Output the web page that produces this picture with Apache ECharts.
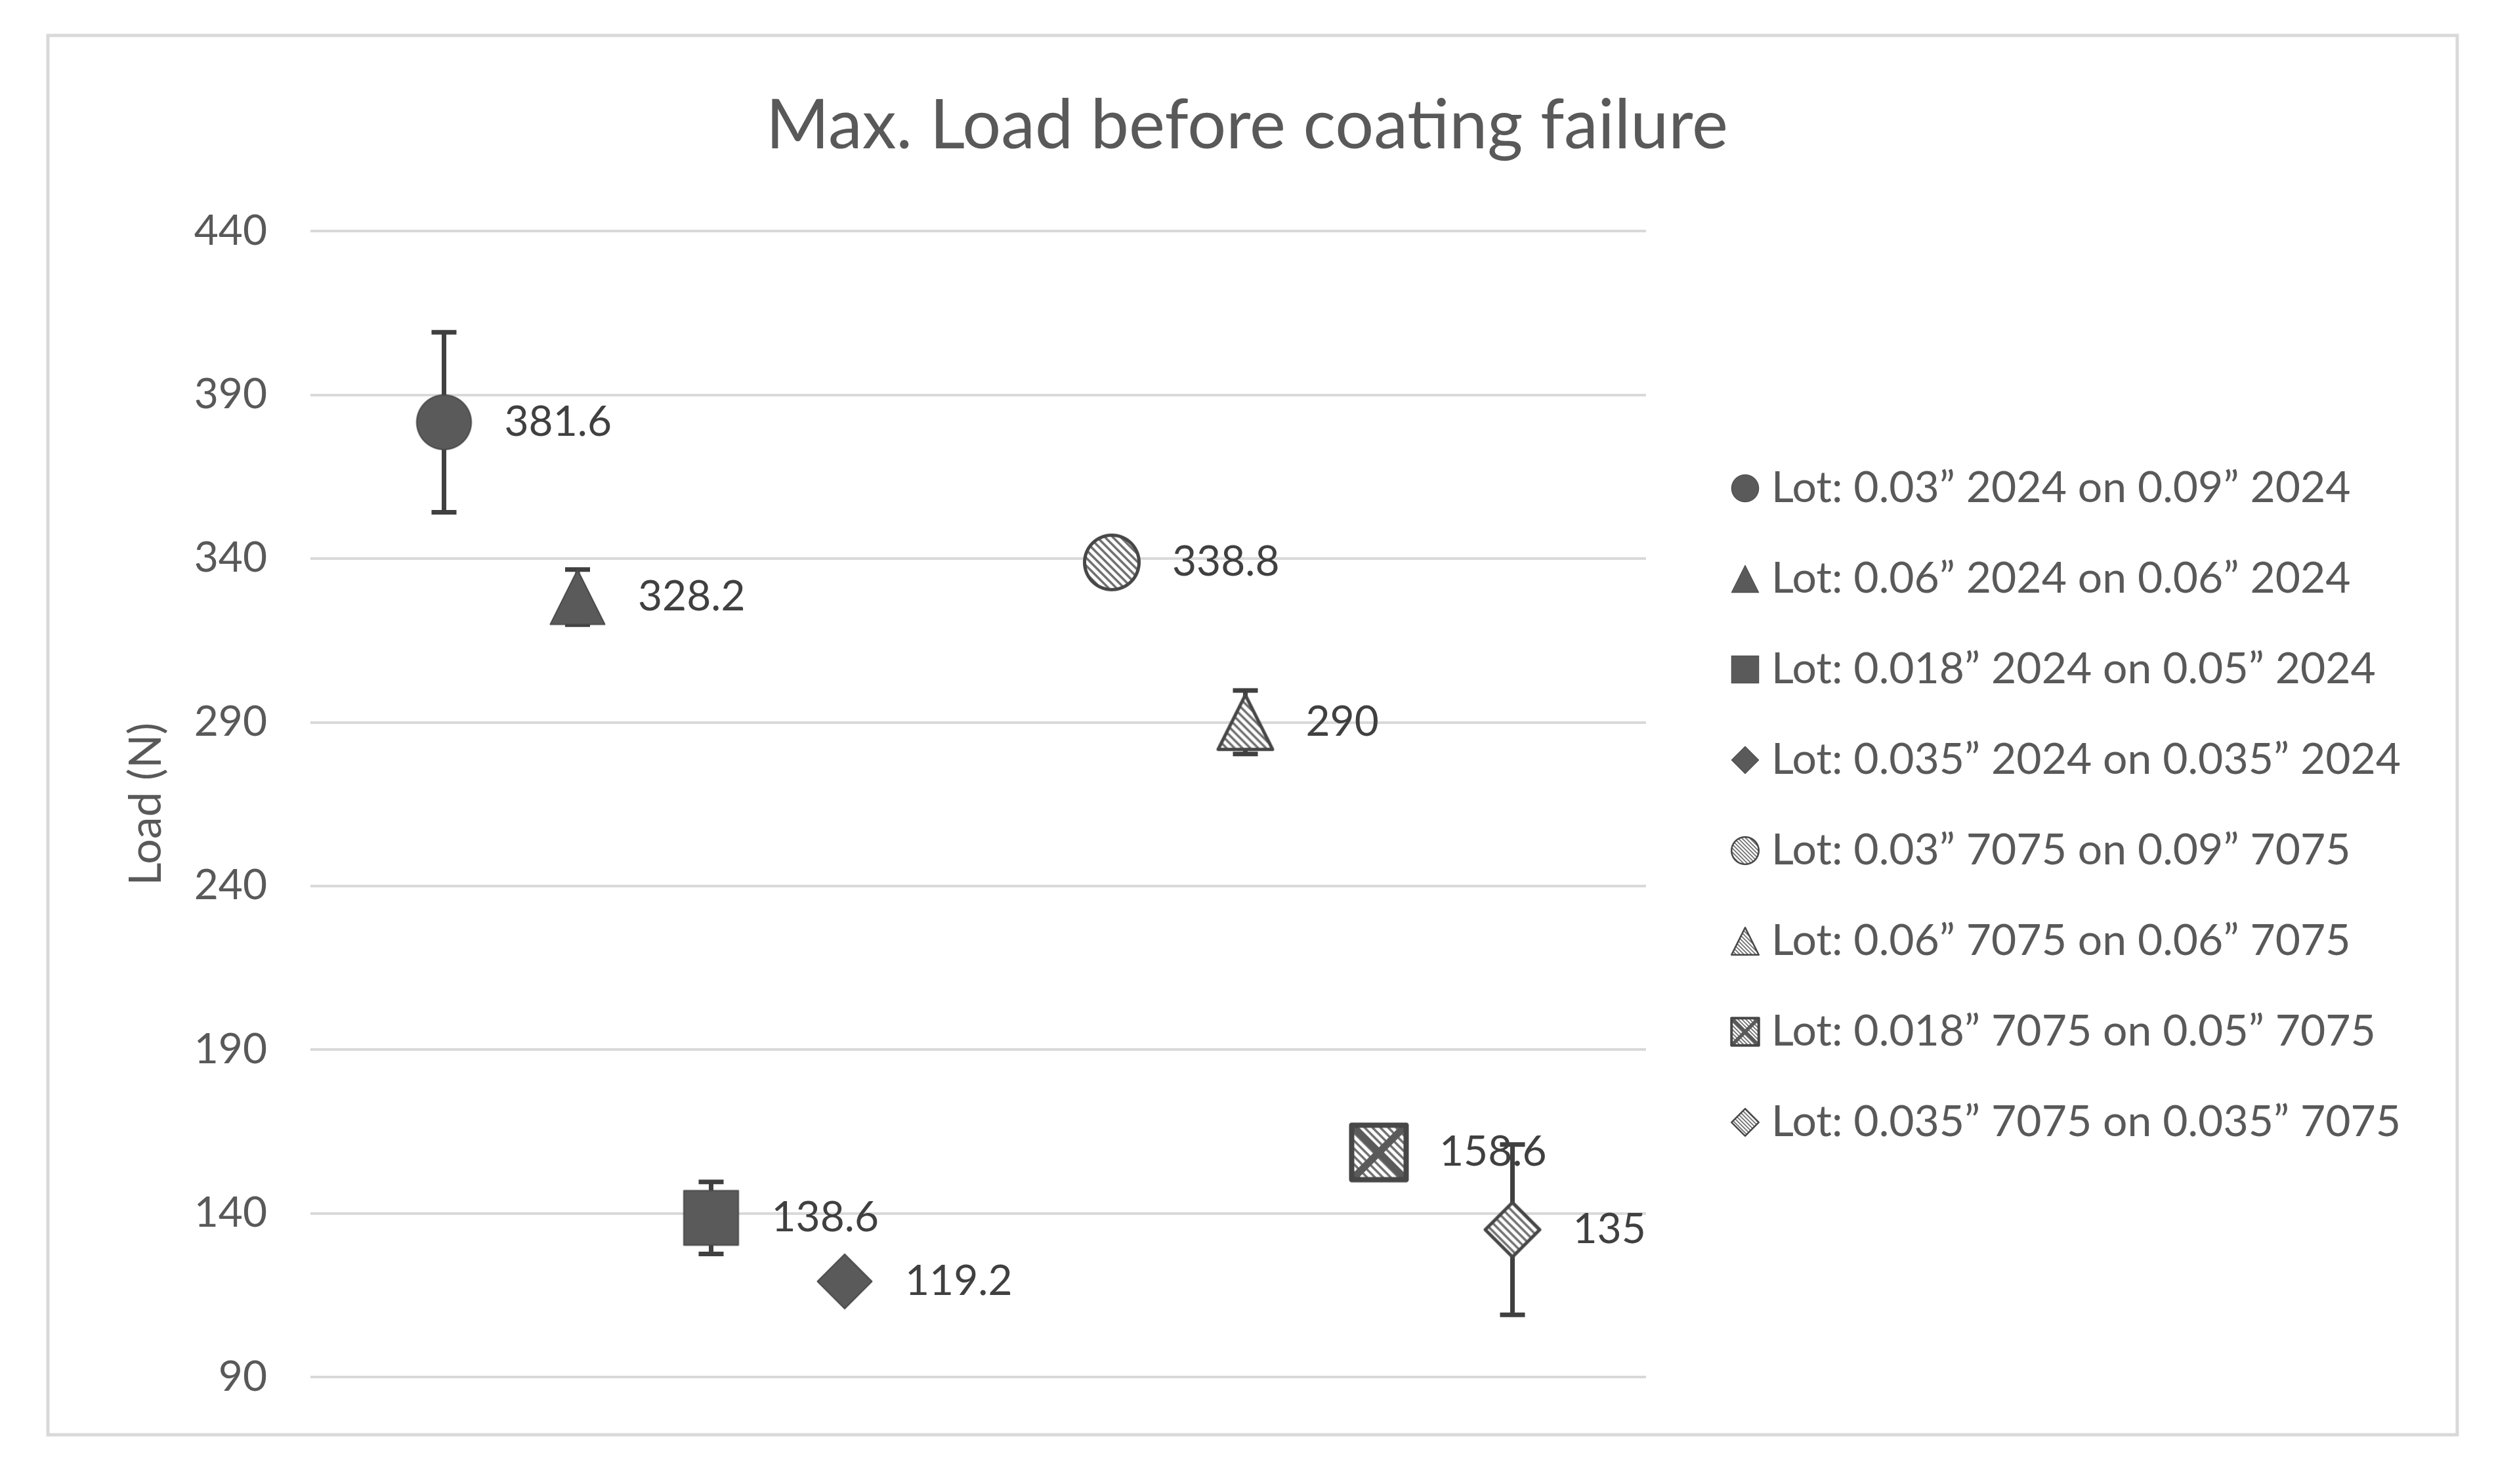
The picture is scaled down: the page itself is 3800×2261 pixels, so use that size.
<!DOCTYPE html>
<html>
<head>
<meta charset="utf-8">
<script src="https://cdn.jsdelivr.net/npm/echarts@6/dist/echarts.min.js"></script>
<style>
    html, body { margin: 0; padding: 0; background: #fff; }
    #chart { width: 3800px; height: 2261px; }
</style>
</head>
<body>
<div id="chart"></div>
<script>
// data
const seriesNames = [
    'Lot: 0.03\u201D 2024 on 0.09\u201D 2024',
    'Lot: 0.06\u201D 2024 on 0.06\u201D 2024',
    'Lot: 0.018\u201D 2024 on 0.05\u201D 2024',
    'Lot: 0.035\u201D 2024 on 0.035\u201D 2024',
    'Lot: 0.03\u201D 7075 on 0.09\u201D 7075',
    'Lot: 0.06\u201D 7075 on 0.06\u201D 7075',
    'Lot: 0.018\u201D 7075 on 0.05\u201D 7075',
    'Lot: 0.035\u201D 7075 on 0.035\u201D 7075'
];
const xPos = [1, 2, 3, 4, 6, 7, 8, 9];
const loads = [381.6, 328.2, 138.6, 119.2, 338.8, 290, 158.6, 135];
const errs = [27.5, 8.4, 11, 4, 4, 9.7, 4, 26];   // small ones sit hidden behind the marker
const yTicks = [90, 140, 190, 240, 290, 340, 390, 440];

// marker look per series
const shapes = ['circle', 'triangle', 'square', 'diamond', 'circle', 'triangle', 'square', 'diamond'];
const fills = ['solid', 'solid', 'solid', 'solid', 'hatch', 'hatch', 'cross', 'hatch'];

const FONT = 'Lato';
const TEXT = '#595959';

function tracePath(ctx, shape, S, p) {
    ctx.beginPath();
    if (shape === 'circle') {
        ctx.arc(S / 2, S / 2, S / 2 - p, 0, Math.PI * 2);
    } else if (shape === 'square') {
        ctx.rect(p, p, S - 2 * p, S - 2 * p);
    } else if (shape === 'triangle') {
        ctx.moveTo(S / 2, p);
        ctx.lineTo(S - p, S - p);
        ctx.lineTo(p, S - p);
        ctx.closePath();
    } else {
        ctx.moveTo(S / 2, p);
        ctx.lineTo(S - p, S / 2);
        ctx.lineTo(S / 2, S - p);
        ctx.lineTo(p, S / 2);
        ctx.closePath();
    }
}

// draw the marker on a canvas and hand it to echarts as an image symbol
function markerImage(shape, fill) {
    const S = 184, p = 9;
    const c = document.createElement('canvas');
    c.width = c.height = S;
    const ctx = c.getContext('2d');
    ctx.lineJoin = 'round';
    tracePath(ctx, shape, S, p);
    if (fill === 'solid') {
        ctx.fillStyle = '#5a5a5a';
        ctx.fill();
        ctx.strokeStyle = '#4a4a4a';
        ctx.lineWidth = 4;
        ctx.stroke();
    } else {
        ctx.fillStyle = '#fff';
        ctx.fill();
        ctx.save();
        ctx.clip();
        ctx.strokeStyle = '#707070';
        ctx.lineWidth = 7;
        for (let k = -S; k < S * 2; k += 24) {
            ctx.beginPath();
            ctx.moveTo(k, 0);
            ctx.lineTo(k + S, S);
            ctx.stroke();
        }
        if (fill === 'cross') {
            ctx.strokeStyle = '#5a5a5a';
            ctx.lineWidth = 22;
            ctx.beginPath();
            ctx.moveTo(0, 0); ctx.lineTo(S, S);
            ctx.moveTo(S, 0); ctx.lineTo(0, S);
            ctx.stroke();
        }
        ctx.restore();
        tracePath(ctx, shape, S, p);
        ctx.strokeStyle = '#474747';
        ctx.lineWidth = fill === 'cross' ? 16 : 10;
        ctx.stroke();
    }
    return 'image://' + c.toDataURL();
}

const chart = echarts.init(document.getElementById('chart'));

const scatterSeries = seriesNames.map((name, i) => ({
    name: name,
    type: 'scatter',
    z: 3,
    symbol: markerImage(shapes[i], fills[i]),
    symbolSize: 92,
    itemStyle: { opacity: 1 },
    data: [[xPos[i], loads[i]]],
    label: {
        show: true,
        position: 'right',
        distance: 46,
        formatter: '{@[1]}',
        fontFamily: FONT,
        fontSize: 64,
        color: '#404040'
    }
}));

// error bars, drawn behind the markers
const errorSeries = {
    type: 'custom',
    name: 'error',
    z: 1,
    silent: true,
    data: xPos.map((x, i) => [x, loads[i] - errs[i], loads[i] + errs[i]]),
    encode: { x: 0, y: [1, 2] },
    renderItem: function (params, api) {
        const lo = api.coord([api.value(0), api.value(1)]);
        const hi = api.coord([api.value(0), api.value(2)]);
        const w = 19;
        const st = { stroke: '#404040', lineWidth: 7 };
        return {
            type: 'group',
            children: [
                { type: 'line', shape: { x1: lo[0], y1: lo[1], x2: hi[0], y2: hi[1] }, style: st },
                { type: 'line', shape: { x1: lo[0] - w, y1: lo[1], x2: lo[0] + w, y2: lo[1] }, style: st },
                { type: 'line', shape: { x1: hi[0] - w, y1: hi[1], x2: hi[0] + w, y2: hi[1] }, style: st }
            ]
        };
    }
};

const option = {
    animation: false,
    backgroundColor: '#fff',
    title: {
        text: 'Max. Load before coating failure',
        left: 'center',
        top: 135,
        textStyle: { fontFamily: FONT, fontSize: 104, fontWeight: 'normal', color: TEXT }
    },
    grid: { left: 473, right: 1292, top: 352, bottom: 163 },
    legend: {
        orient: 'vertical',
        left: 2631,
        top: 706,
        itemWidth: 46,
        itemHeight: 46,
        itemGap: 72,
        data: seriesNames,
        itemStyle: { opacity: 1 },
        textStyle: {
            fontFamily: FONT,
            fontSize: 66,
            lineHeight: 66,
            color: TEXT,
            padding: [0, 0, 0, 12]
        }
    },
    xAxis: {
        type: 'value',
        min: 0,
        max: 10,
        show: false
    },
    yAxis: {
        type: 'value',
        min: 90,
        max: 440,
        interval: 50,
        axisLine: { show: false },
        axisTick: { show: false, customValues: yTicks },
        axisLabel: {
            customValues: yTicks,
            margin: 66,
            fontFamily: FONT,
            fontSize: 64,
            color: TEXT
        },
        splitLine: { lineStyle: { color: '#d9d9d9', width: 4 } },
        name: 'Load (N)',
        nameLocation: 'middle',
        nameGap: 216,
        nameTextStyle: { fontFamily: FONT, fontSize: 68, color: TEXT }
    },
    graphic: [{
        type: 'rect',
        silent: true,
        shape: { x: 73, y: 54, width: 3671, height: 2132 },
        style: { fill: 'none', stroke: '#d9d9d9', lineWidth: 5 }
    }],
    series: [errorSeries].concat(scatterSeries)
};

chart.setOption(option);
</script>
</body>
</html>
